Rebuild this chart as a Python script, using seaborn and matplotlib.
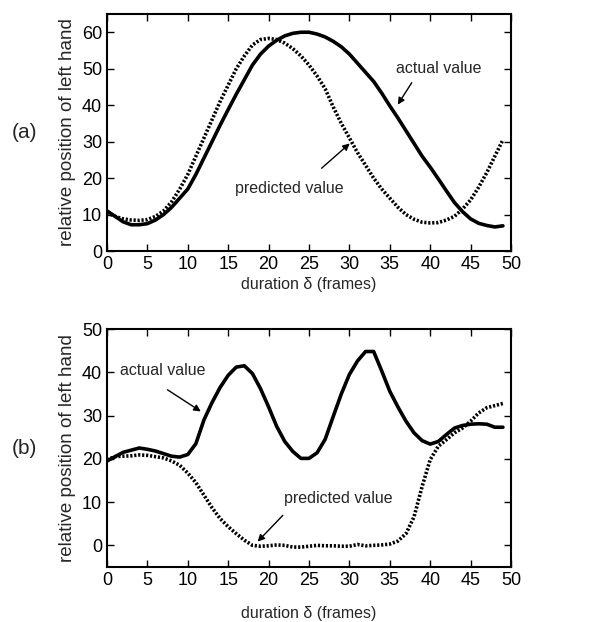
import matplotlib
matplotlib.use("Agg")
import matplotlib.pyplot as plt
import numpy as np
import pandas as pd
import seaborn as sns

frames = list(range(50))

actual_a = [11, 9.5, 8, 7.2, 7.2, 7.5, 8.5, 10, 12, 14.5,
            17, 21, 25.5, 30, 34.5, 38.8, 43, 47, 51, 54,
            56.2, 57.8, 59, 59.7, 60, 60, 59.5, 58.7, 57.5, 56,
            54, 51.5, 49, 46.5, 43.3, 39.8, 36.5, 33, 29.5, 26,
            23, 19.8, 16.5, 13.3, 10.8, 8.8, 7.6, 7, 6.6, 6.9]
predicted_a = [10.5, 9.5, 8.8, 8.5, 8.4, 8.6, 9.5, 11, 13.5, 17,
               21, 26, 31, 36, 41, 45.5, 50, 53.5, 56.5, 58,
               58.3, 58, 57, 55.5, 53.5, 51, 48, 44.5, 39.5, 35,
               31, 27, 23.5, 20, 17, 14.5, 12, 10, 8.7, 7.9,
               7.7, 7.8, 8.5, 9.5, 11.5, 14, 17.5, 21.5, 26, 30.5]

actual_b = [19.5, 20.5, 21.5, 22, 22.5, 22.2, 21.8, 21.2, 20.6, 20.4,
            21, 23.5, 29, 33, 36.5, 39.3, 41.2, 41.5, 39.7, 36.2,
            32, 27.5, 24, 21.7, 20.1, 20.1, 21.4, 24.5, 29.8, 35,
            39.5, 42.6, 44.8, 44.8, 40.3, 35.6, 32, 28.7, 26, 24.2,
            23.4, 24, 25.6, 27.1, 27.7, 28, 28.1, 28, 27.3, 27.3]
predicted_b = [19.8, 20.5, 20.6, 20.7, 20.9, 20.8, 20.5, 20.2, 19.5, 18.5,
               16.7, 14.5, 11.6, 8.7, 6.2, 4.3, 2.7, 1.2, 0, -0.2,
               -0.1, 0.1, 0, -0.4, -0.4, -0.2, 0, -0.1, -0.1, -0.2,
               -0.2, 0.2, -0.1, 0, 0.1, 0.3, 1, 2.7, 6.6, 13.6,
               19.8, 22.9, 24.4, 26, 27.1, 28.7, 30.6, 31.8, 32.3, 32.8]

sns.set_style("ticks")
plt.rcParams["font.family"] = ["Liberation Sans", "DejaVu Sans"]

fig = plt.figure(figsize=(6.1, 6.22), dpi=100)
ax_a = fig.add_axes([107 / 610, 1 - 251 / 622, 404 / 610, 237 / 622])
ax_b = fig.add_axes([107 / 610, 1 - 567 / 622, 404 / 610, 238 / 622])

panels = [
    (ax_a, actual_a, predicted_a, (0, 65), np.arange(0, 61, 10), "(a)",
     ((41, 50), (37.9, 46.8), (35.8, 39.5)),
     ((22.6, 17.2), (26.3, 22.2), (30.3, 30.0))),
    (ax_b, actual_b, predicted_b, (-5, 50), np.arange(0, 51, 10), "(b)",
     ((6.9, 40.3), (7.2, 36.3), (11.9, 30.6)),
     ((28.6, 10.9), (22.0, 7.4), (18.4, 0.4))),
]

for ax, actual, predicted, ylim, yticks, tag, ann_act, ann_pred in panels:
    df = pd.DataFrame({"frame": frames, "actual": actual, "predicted": predicted})
    sns.lineplot(data=df, x="frame", y="predicted", ax=ax, color="black",
                 linewidth=2.6, linestyle=(0, (0.6, 0.5)))
    sns.lineplot(data=df, x="frame", y="actual", ax=ax, color="black", linewidth=2.6)

    ax.set_xlim(0, 50)
    ax.set_ylim(*ylim)
    ax.set_xticks(np.arange(0, 51, 5))
    ax.set_yticks(yticks)
    ax.tick_params(direction="in", top=True, right=True, labelsize=13,
                   length=5, width=1, colors="black")
    for s in ax.spines.values():
        s.set_linewidth(1.5)
        s.set_color("black")
    ax.set_xlabel("duration δ (frames)", fontsize=11.5)
    ax.set_ylabel("relative position of left hand", fontsize=13.5)
    ax.text(-0.205, 0.5, tag, transform=ax.transAxes, fontsize=15,
            ha="center", va="center")

    # annotations with arrows
    ax.text(ann_act[0][0], ann_act[0][1], "actual value", fontsize=11.5,
            ha="center", va="center")
    ax.annotate("", xy=ann_act[2], xytext=ann_act[1],
                arrowprops=dict(arrowstyle="-|>", color="black", lw=1,
                                mutation_scale=10))
    ax.text(ann_pred[0][0], ann_pred[0][1], "predicted value", fontsize=11.5,
            ha="center", va="center")
    ax.annotate("", xy=ann_pred[2], xytext=ann_pred[1],
                arrowprops=dict(arrowstyle="-|>", color="black", lw=1,
                                mutation_scale=10))

ax_a.xaxis.labelpad = 3
ax_b.xaxis.labelpad = 12

fig.savefig("out.png", dpi=100)
